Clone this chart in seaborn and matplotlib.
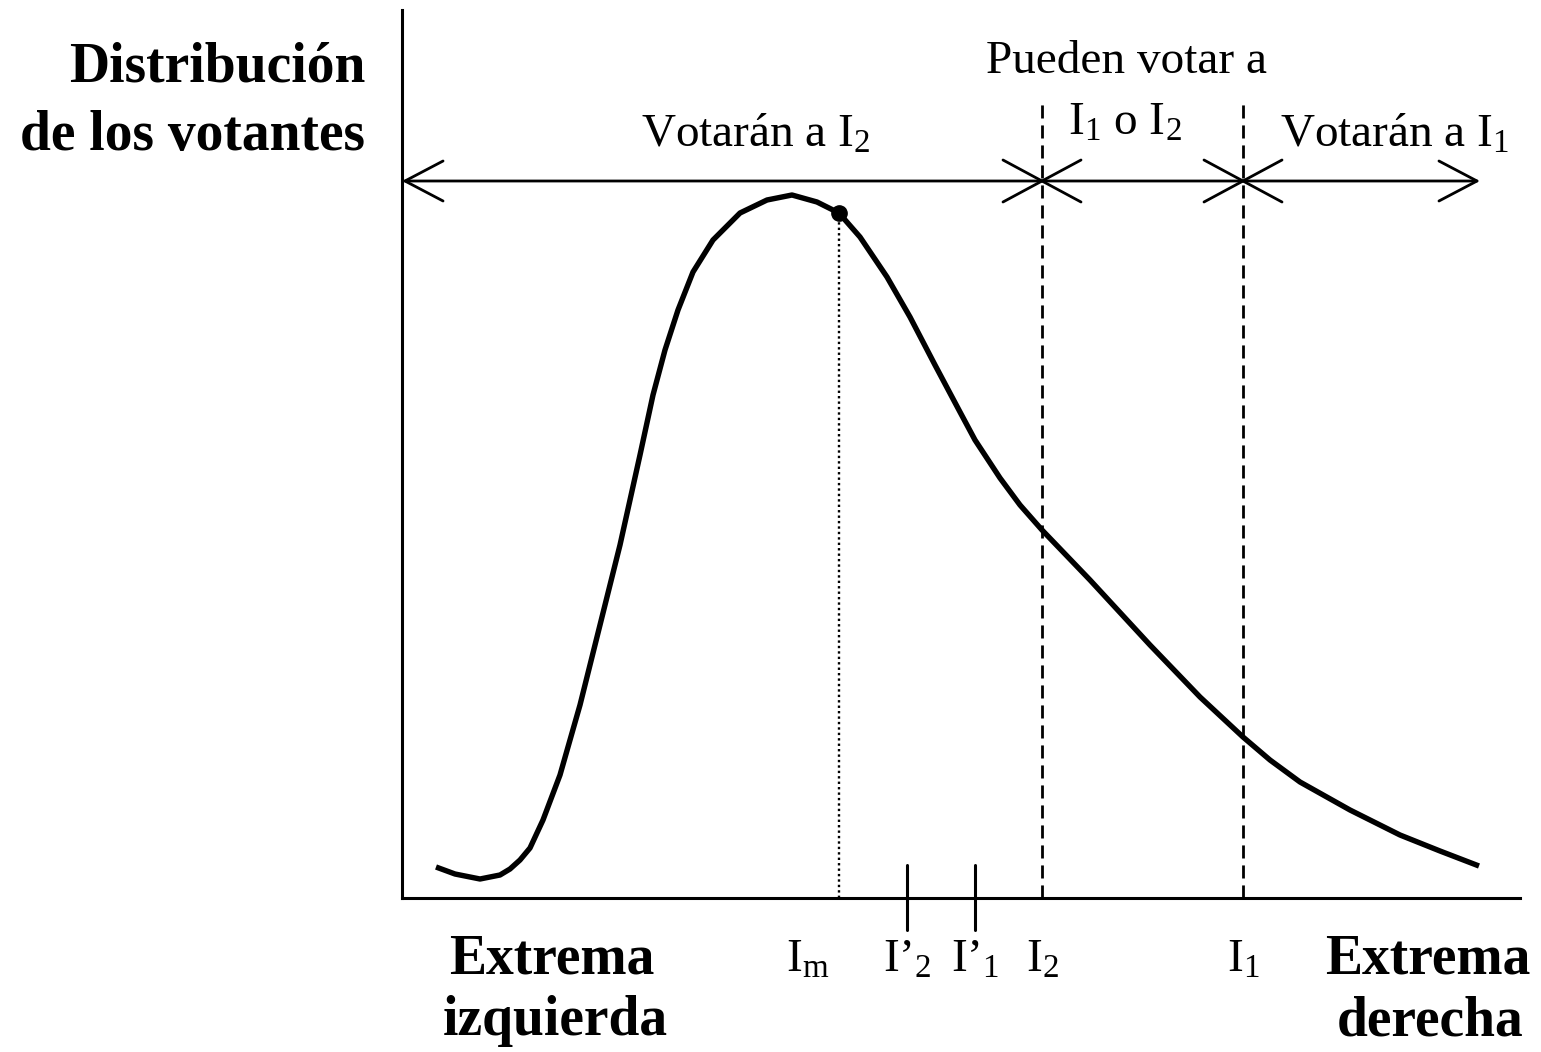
import numpy as np
import pandas as pd
import matplotlib
matplotlib.use("Agg")
import matplotlib.pyplot as plt
import seaborn as sns

# curve (x: ideology position, y: number of voters)
curve_x = [34, 53, 78, 98, 108, 118, 128, 141, 158, 178, 198, 218, 238, 251, 263,
           276, 291, 311, 338, 365, 390, 415, 437, 458, 485, 508, 533, 558, 573,
           598, 618, 640, 688, 748, 798, 841, 868, 898, 948, 998, 1038, 1077]
curve_y = [31, 24, 19, 23, 29, 38, 50, 78, 123, 193, 273, 353, 443, 503, 548,
           588, 626, 658, 685, 698, 703, 696, 685, 661, 621, 581, 533, 486, 458,
           420, 393, 368, 318, 253, 201, 161, 138, 116, 88, 63, 47, 32]

# positions on the ideology axis
pos_names = ["I$_\\mathrm{m}$", "I\u2019$_2$", "I\u2019$_1$", "I$_2$", "I$_1$"]
pos_x = [437, 505, 573, 640, 841]
median_y = 685          # point of the curve above I_m
arrow_y = 717           # height of the double arrow
x_end = 1078            # right tip of the arrow

sns.set_theme(style="white")
plt.rcParams["font.family"] = ["Liberation Serif", "DejaVu Serif"]
plt.rcParams["text.color"] = "black"
plt.rcParams["mathtext.fontset"] = "custom"
plt.rcParams["mathtext.rm"] = "Liberation Serif"
plt.rcParams["mathtext.it"] = "Liberation Serif:italic"
plt.rcParams["mathtext.bf"] = "Liberation Serif:bold"

W, H = 1541, 1052
fig = plt.figure(figsize=(W / 100, H / 100), dpi=100)
fig.patch.set_facecolor("white")
ax = fig.add_axes([402 / W, (H - 898) / H, 1118 / W, 888 / H])
ax.set_xlim(0, 1118)
ax.set_ylim(0, 888)
ax.set_facecolor("white")
for s in ["top", "right"]:
    ax.spines[s].set_visible(False)
for s in ["left", "bottom"]:
    ax.spines[s].set_color("black")
    ax.spines[s].set_linewidth(2.2)
ax.set_xticks([])
ax.set_yticks([])

df = pd.DataFrame({"x": curve_x, "y": curve_y})
sns.lineplot(data=df, x="x", y="y", color="black", linewidth=3.9, sort=False,
             estimator=None, ax=ax, solid_capstyle="butt", solid_joinstyle="round")

# median voter point and dotted line
ax.plot([pos_x[0]], [median_y], "o", color="black", ms=11)
ax.plot([pos_x[0], pos_x[0]], [0, median_y], color="black", lw=1.7,
        linestyle=(0, (1, 1.3)))

# dashed boundaries at I2 and I1
for xv in pos_x[3:]:
    ax.plot([xv, xv], [0, 798], color="black", lw=2,
            linestyle=(0, (4.7, 2.5)))

# short ticks at I'2 and I'1
for xv in pos_x[1:3]:
    ax.plot([xv, xv], [-32, 33], color="black", lw=2.2, clip_on=False)

# double arrow
ax.annotate("", xy=(x_end, arrow_y), xytext=(0, arrow_y),
            arrowprops=dict(arrowstyle="<->,head_length=2.74,head_width=1.44",
                            mutation_scale=10, lw=2, color="black",
                            shrinkA=0, shrinkB=0))
# crosses on the arrow
for xv in pos_x[3:]:
    ax.plot([xv - 39, xv + 39], [arrow_y + 21, arrow_y - 21], color="black", lw=2)
    ax.plot([xv - 39, xv + 39], [arrow_y - 21, arrow_y + 21], color="black", lw=2)

# position labels
for name, xv in zip(pos_names, pos_x):
    ax.text(xv if name != pos_names[0] else xv - 31, -74, name, fontsize=34,
            ha="center", va="baseline")

# region texts
ax.text(354, 751, "Votarán a I$_2$", fontsize=34, ha="center", va="baseline")
ax.text(725, 825, "Pueden votar a", fontsize=34, ha="center", va="baseline")
ax.text(723, 763, "I$_1$ o I$_2$", fontsize=34, ha="center", va="baseline")
ax.text(993, 751, "Votarán a I$_1$", fontsize=34, ha="center", va="baseline")

# axis titles
bold = dict(fontsize=40, fontweight="bold", va="baseline")
ax.text(-37, 816, "Distribución", ha="right", **bold)
ax.text(-37, 748, "de los votantes", ha="right", **bold)
ax.text(150, -75, "Extrema", ha="center", **bold)
ax.text(153, -137, "izquierda", ha="center", **bold)
ax.text(1026, -75, "Extrema", ha="center", **bold)
ax.text(1028, -137, "derecha", ha="center", **bold)

fig.savefig("out.png", dpi=100, facecolor="white")
